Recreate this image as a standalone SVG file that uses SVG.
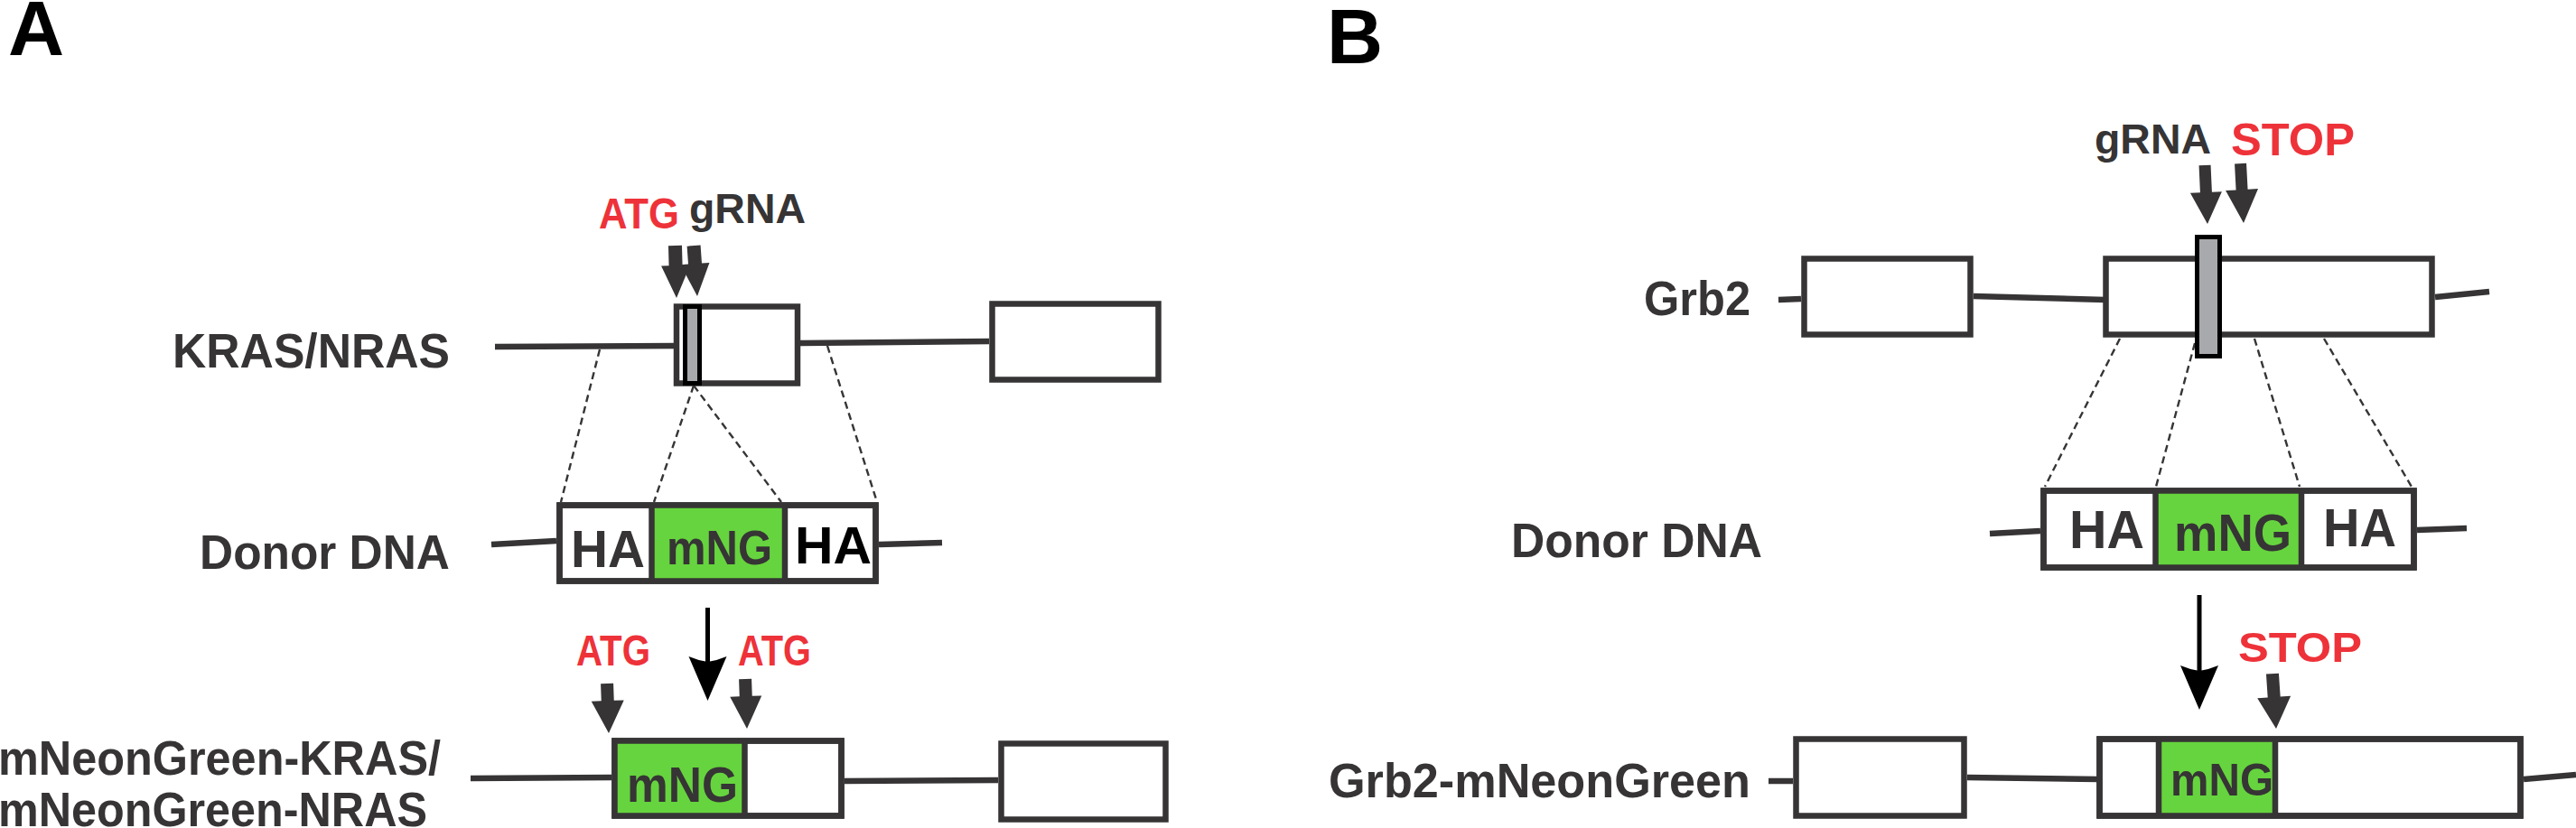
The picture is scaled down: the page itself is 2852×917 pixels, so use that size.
<svg xmlns="http://www.w3.org/2000/svg" width="2852" height="917" viewBox="0 0 2852 917">
<style>
.t{font-family:"Liberation Sans",Arial,sans-serif;font-weight:bold;fill:#363435}
.r{fill:#ee3239}
.k{fill:#000}
.bx{fill:#fff;stroke:#363435;stroke-width:6.5}
.g{fill:#66d43e}
.dv{stroke:#363435;stroke-width:6.5}
.ln{stroke:#363435;stroke-width:6.5;fill:none}
.ds{stroke:#363435;stroke-width:2.4;stroke-dasharray:8 5;fill:none}
.bar{fill:#a7a9ac;stroke:#000;stroke-width:5}
.ar{fill:#363435}
.bk{fill:#000}
</style>
<rect width="2852" height="917" fill="#fff"/>

<g id="connectors">
  <!-- panel A genomic lines -->
  <path class="ln" d="M548,384 L749,383"/>
  <path class="ln" d="M886,380 L1095,378"/>
  <path class="ln" d="M544,603 L616,599"/>
  <path class="ln" d="M973,603 L1043,601"/>
  <path class="ln" d="M521,862 L677,861"/>
  <path class="ln" d="M935,865 L1105,864"/>
  <!-- panel A dashed -->
  <path class="ds" d="M664,387 L621,556"/>
  <path class="ds" d="M768,427 L724,556"/>
  <path class="ds" d="M768,427 L865,556"/>
  <path class="ds" d="M916,383 L971,556"/>
  <!-- panel B genomic lines -->
  <path class="ln" d="M1969,332 L1994,331"/>
  <path class="ln" d="M2185,328 L2331,332"/>
  <path class="ln" d="M2696,329 L2756,323"/>
  <path class="ln" d="M2203,591 L2259,588"/>
  <path class="ln" d="M2676,587 L2731,585"/>
  <path class="ln" d="M1958,865 L1985,865"/>
  <path class="ln" d="M2178,861 L2323,863"/>
  <path class="ln" d="M2794,863 L2852,858"/>
  <!-- panel B dashed -->
  <path class="ds" d="M2347,375 L2264,539"/>
  <path class="ds" d="M2430,380 L2387,539"/>
  <path class="ds" d="M2496,375 L2546,539"/>
  <path class="ds" d="M2573,375 L2670,539"/>
  <!-- thick marker arrows -->
  <path class="ar" transform="translate(749,330) rotate(-1.5)" d="M-7.5,-58 H7.5 V-36 H16 L0,0 L-16,-36 H-7.5 Z"/>
  <path class="ar" transform="translate(772,328) rotate(-4)" d="M-7.5,-56 H7.5 V-36 H16 L0,0 L-16,-36 H-7.5 Z"/>
  <path class="ar" transform="translate(674,812) rotate(-2)" d="M-7,-55 H7 V-36 H18 L0,0 L-18,-36 H-7 Z"/>
  <path class="ar" transform="translate(827,807) rotate(-2)" d="M-7,-55 H7 V-36 H17.5 L0,0 L-17.5,-36 H-7 Z"/>
  <path class="ar" transform="translate(2444,248) rotate(-2.6)" d="M-6.5,-65 H6.5 V-35 H17.5 L0,0 L-17.5,-35 H-6.5 Z"/>
  <path class="ar" transform="translate(2484,247) rotate(-3)" d="M-6.5,-66 H6.5 V-37 H18 L0,0 L-18,-37 H-6.5 Z"/>
  <path class="ar" transform="translate(2520,807) rotate(-3.8)" d="M-7,-61 H7 V-35 H18.5 L0,0 L-18.5,-35 H-7 Z"/>
  <!-- big black process arrows -->
  <path d="M783.5,673 V738" stroke="#000" stroke-width="5"/>
  <path class="bk" d="M783.5,776 L762.5,727 Q773,731.5 783.5,733 Q794,731.5 804.5,727 Z"/>
  <path d="M2435,659 V748" stroke="#000" stroke-width="5"/>
  <path class="bk" d="M2435,786 L2414,737 Q2424.5,741.5 2435,743 Q2445.5,741.5 2456,737 Z"/>
</g>

<g id="label-A"><text class="t k" x="9" y="61" font-size="86">A</text></g>
<g id="label-B"><text class="t k" x="1469" y="70" font-size="86">B</text></g>

<g id="kras-gene">
  <text class="t" x="191" y="407" font-size="53" textLength="307" lengthAdjust="spacingAndGlyphs">KRAS/NRAS</text>
  <rect class="bx" x="749" y="339.5" width="134" height="85"/>
  <rect class="bar" x="758.5" y="339.5" width="16" height="85"/>
  <rect class="bx" x="1098.5" y="336.5" width="184" height="84"/>
  <text class="t r" x="663" y="253" font-size="49" textLength="89" lengthAdjust="spacingAndGlyphs">ATG</text>
  <text class="t" x="763" y="247" font-size="46" textLength="129" lengthAdjust="spacingAndGlyphs">gRNA</text>
</g>

<g id="donor-A">
  <text class="t" x="221" y="630" font-size="53" textLength="277" lengthAdjust="spacingAndGlyphs">Donor DNA</text>
  <rect class="bx" x="619.5" y="559.5" width="350" height="84"/>
  <rect class="g" x="721.5" y="559.5" width="147.5" height="84"/>
  <rect x="619.5" y="559.5" width="350" height="84" fill="none" stroke="#363435" stroke-width="6.5"/>
  <line class="dv" x1="721.5" y1="559.5" x2="721.5" y2="643.5"/>
  <line class="dv" x1="869" y1="559.5" x2="869" y2="643.5"/>
  <text class="t" x="632" y="628" font-size="58" textLength="82" lengthAdjust="spacingAndGlyphs">HA</text>
  <text class="t" x="738" y="625" font-size="54" textLength="117" lengthAdjust="spacingAndGlyphs">mNG</text>
  <text class="t k" x="880" y="624" font-size="58" textLength="85" lengthAdjust="spacingAndGlyphs">HA</text>
</g>

<g id="mng-kras">
  <text class="t" x="-2" y="858" font-size="53" textLength="490" lengthAdjust="spacingAndGlyphs">mNeonGreen-KRAS/</text>
  <text class="t" x="-2" y="915" font-size="53" textLength="475" lengthAdjust="spacingAndGlyphs">mNeonGreen-NRAS</text>
  <rect class="bx" x="680.5" y="820.5" width="251" height="83"/>
  <rect class="g" x="680.5" y="820.5" width="144" height="83"/>
  <rect x="680.5" y="820.5" width="251" height="83" fill="none" stroke="#363435" stroke-width="6.5"/>
  <line class="dv" x1="824.5" y1="820.5" x2="824.5" y2="903.5"/>
  <text class="t" x="694" y="888" font-size="56" textLength="123" lengthAdjust="spacingAndGlyphs">mNG</text>
  <rect class="bx" x="1108.5" y="823.5" width="182" height="84"/>
  <text class="t r" x="638" y="737" font-size="48" textLength="82" lengthAdjust="spacingAndGlyphs">ATG</text>
  <text class="t r" x="817" y="737" font-size="48" textLength="81" lengthAdjust="spacingAndGlyphs">ATG</text>
</g>

<g id="grb2-gene">
  <text class="t" x="1820" y="349" font-size="53" textLength="118" lengthAdjust="spacingAndGlyphs">Grb2</text>
  <rect class="bx" x="1997.5" y="286.5" width="184" height="84"/>
  <rect class="bx" x="2331.5" y="286.5" width="361" height="84"/>
  <rect class="bar" x="2432.5" y="262.5" width="25" height="132"/>
  <text class="t" x="2319" y="170" font-size="47" textLength="129" lengthAdjust="spacingAndGlyphs">gRNA</text>
  <text class="t r" x="2470" y="172" font-size="50" textLength="137" lengthAdjust="spacingAndGlyphs">STOP</text>
</g>

<g id="donor-B">
  <text class="t" x="1673" y="617" font-size="53" textLength="278" lengthAdjust="spacingAndGlyphs">Donor DNA</text>
  <rect class="bx" x="2262.5" y="543.5" width="410" height="85"/>
  <rect class="g" x="2386.5" y="543.5" width="161.5" height="85"/>
  <rect x="2262.5" y="543.5" width="410" height="85" fill="none" stroke="#363435" stroke-width="6.5"/>
  <line class="dv" x1="2386.5" y1="543.5" x2="2386.5" y2="628.5"/>
  <line class="dv" x1="2548" y1="543.5" x2="2548" y2="628.5"/>
  <text class="t" x="2291" y="607" font-size="59" textLength="83" lengthAdjust="spacingAndGlyphs">HA</text>
  <text class="t" x="2407" y="610" font-size="58" textLength="130" lengthAdjust="spacingAndGlyphs">mNG</text>
  <text class="t" x="2572" y="605" font-size="59" textLength="81" lengthAdjust="spacingAndGlyphs">HA</text>
</g>

<g id="grb2-mng">
  <text class="t" x="1471" y="883" font-size="53" textLength="467" lengthAdjust="spacingAndGlyphs">Grb2-mNeonGreen</text>
  <rect class="bx" x="1988.5" y="818.5" width="186" height="85"/>
  <rect class="bx" x="2324.5" y="818.5" width="466" height="85"/>
  <rect class="g" x="2390" y="818.5" width="129" height="85"/>
  <rect x="2324.5" y="818.5" width="466" height="85" fill="none" stroke="#363435" stroke-width="6.5"/>
  <line class="dv" x1="2390" y1="818.5" x2="2390" y2="903.5"/>
  <line class="dv" x1="2519" y1="818.5" x2="2519" y2="903.5"/>
  <text class="t" x="2403" y="881" font-size="50" textLength="114" lengthAdjust="spacingAndGlyphs">mNG</text>
  <text class="t r" x="2478" y="733" font-size="47" textLength="137" lengthAdjust="spacingAndGlyphs">STOP</text>
</g>
</svg>
